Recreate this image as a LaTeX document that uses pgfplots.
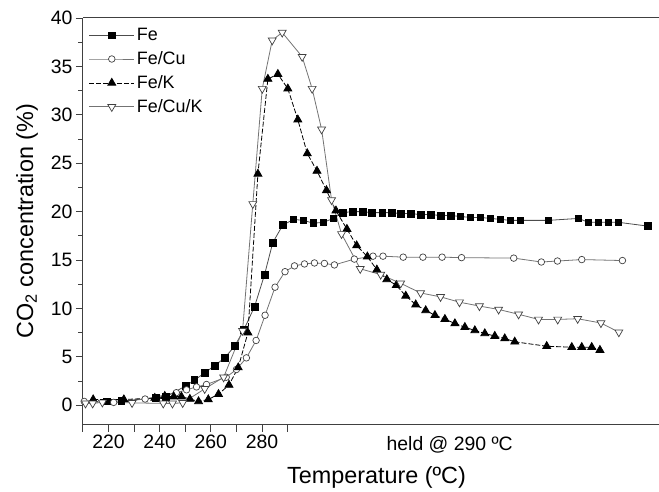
\documentclass[border=0pt]{standalone}
\usepackage{fontspec}
\setmainfont{Liberation Sans}
\usepackage{pgfplots}
\pgfplotsset{compat=1.18}
\begin{document}
\begin{tikzpicture}
\pgfplotsset{
  fe/.style={black!70, line width=0.8pt, mark=square*, mark size=3.4pt,
    mark options={solid, fill=black, draw=black}},
  cu/.style={black!55, line width=0.8pt, mark=*, mark size=3.3pt,
    mark options={solid, fill=white, draw=black!75, line width=0.7pt}},
  fk/.style={black, line width=0.8pt, dash pattern=on 5pt off 2pt, mark=triangle*, mark size=4.6pt,
    mark options={solid, fill=black, draw=black}},
  cuk/.style={black!55, line width=0.8pt, mark=triangle*, mark size=4.6pt,
    mark options={solid, rotate=180, fill=white, draw=black!75, line width=0.7pt}},
}
\begin{axis}[name=ax,
  width=576bp, height=407bp, scale only axis,
  xmin=210, xmax=435, ymin=-2, ymax=40,
  axis x line=box, axis y line=left,
  every non boxed y axis/.style={},
  y axis line style={-},
  axis line style={black!75, line width=1pt},
  xtick={210,220,...,290}, xticklabels={,220,,240,,260,,280,},
  ytick={0,5,...,40}, minor y tick num=1,
  xtick pos=left, ytick pos=left,
  tick align=outside, major tick length=7bp, minor tick length=4.5bp,
  tick style={black!75, line width=0.9pt},
  tick label style={font=\fontsize{19.5}{21}\selectfont},
  /pgf/number format/assume math mode=true,
  xlabel={Temperature (ºC)},
  xlabel style={at={(axis description cs:0.51,-0.13)}, anchor=center,
    font=\fontsize{23.5}{26}\selectfont},
  ylabel={CO\textsubscript{2} concentration (\%)},
  ylabel style={at={(axis description cs:-0.097,0.5)}, anchor=center,
    font=\fontsize{23.5}{26}\selectfont},
  legend style={at={(axis description cs:0.008,0.982)}, anchor=north west,
    draw=none, fill=none, font=\fontsize{18}{20}\selectfont,
    row sep=5.5pt, inner sep=1pt, cells={anchor=west}},
  legend image code/.code={\draw[mark repeat=2,mark phase=2]
    plot coordinates {(0cm,0cm) (0.8cm,0cm) (1.6cm,0cm)};},
]
\addplot[fe] coordinates {
 (219.3,0.4) (225.0,0.45) (238.5,0.75) (242.5,0.9) (250.2,2.0) (253.6,2.6)
 (257.6,3.35) (261.5,4.1) (265.4,4.9) (269.3,6.1) (272.9,7.8) (277.1,10.2)
 (281.0,13.5) (284.2,16.8) (288.1,18.6) (292.3,19.2) (296.2,19.1) (300.1,18.8)
 (304.0,18.9) (307.9,19.3) (311.5,19.9) (315.4,20.0) (319.3,20.0) (322.9,19.9)
 (327.1,19.9) (330.7,19.9) (334.2,19.8) (338.1,19.8) (342.0,19.7) (345.9,19.7)
 (349.8,19.6) (353.7,19.6) (357.6,19.5) (361.5,19.4) (365.4,19.4) (369.3,19.3)
 (373.2,19.2) (377.1,19.1) (381.0,19.1) (392.0,19.1) (403.7,19.3) (407.6,18.9)
 (411.5,18.9) (415.4,18.9) (419.3,18.9) (431.0,18.5)};
\addlegendentry{Fe}
\addplot[cu] coordinates {
 (210.5,0.4) (222.0,0.3) (234.3,0.65) (246.5,1.3) (250.5,1.6) (254.4,1.9)
 (258.3,2.15) (266.0,2.9) (270.0,3.7) (273.9,4.9) (277.7,6.7) (281.2,9.3)
 (285.1,12.2) (289.0,13.8) (292.7,14.4) (296.6,14.6) (300.5,14.7) (304.4,14.65)
 (308.3,14.5) (316.1,15.1) (323.4,15.4) (327.3,15.4) (335.2,15.3) (342.9,15.3)
 (350.4,15.3) (358.0,15.25) (378.4,15.2) (389.2,14.8) (395.5,14.9) (405.0,15.05)
 (420.9,14.95)};
\addlegendentry{Fe/Cu}
\addplot[fk] coordinates {
 (214.0,0.6) (226.0,0.6) (238.1,0.75) (242.0,0.95) (245.5,0.9) (248.5,0.9)
 (251.8,0.65) (255.2,0.4) (259.0,0.6) (263.0,1.15) (267.1,2.1) (270.7,3.9)
 (274.5,7.5) (278.4,23.9) (282.3,33.7) (286.2,34.2) (290.1,32.7) (294.0,29.5)
 (297.7,26.0) (301.5,24.2) (305.2,22.2) (308.9,20.1) (313.2,18.2) (317.0,16.5)
 (321.2,15.35) (324.9,14.0) (328.8,13.0) (332.5,12.4) (336.2,11.3) (340.1,10.4)
 (344.0,9.8) (347.6,9.3) (351.5,8.9) (355.4,8.45) (359.3,8.07) (363.2,7.73)
 (367.1,7.42) (371.0,7.15) (374.9,6.9) (378.8,6.56) (391.3,6.1) (401.1,6.0)
 (405.0,6.0) (408.9,6.0) (412.1,5.7)};
\addlegendentry{Fe/K}
\addplot[cuk] coordinates {
 (211.0,0.2) (213.8,0.2) (217.6,0.3) (229.2,0.25) (241.4,0.2) (245.0,0.2)
 (249.0,0.25) (257.6,1.7) (265.0,2.9) (272.4,7.7) (276.4,20.8) (280.1,32.7)
 (284.0,37.7) (287.9,38.5) (295.7,36.0) (299.6,32.7) (303.3,28.5) (307.2,21.2)
 (311.1,17.7) (318.4,14.1) (326.4,13.5) (334.2,12.6) (342.0,11.6) (349.8,11.2)
 (357.2,10.65) (365.0,10.25) (372.5,9.9) (380.3,9.4) (388.1,8.87) (395.6,8.87)
 (403.4,8.94) (412.5,8.5) (419.5,7.55)};
\addlegendentry{Fe/Cu/K}
\end{axis}
\node[font=\fontsize{19.5}{21}\selectfont] at ([xshift=367bp,yshift=-20bp]ax.south west) {held @ 290 ºC};
\path ([xshift=-83bp,yshift=-63bp]ax.south west) rectangle ([yshift=18bp]ax.north east);
\end{tikzpicture}
\end{document}
